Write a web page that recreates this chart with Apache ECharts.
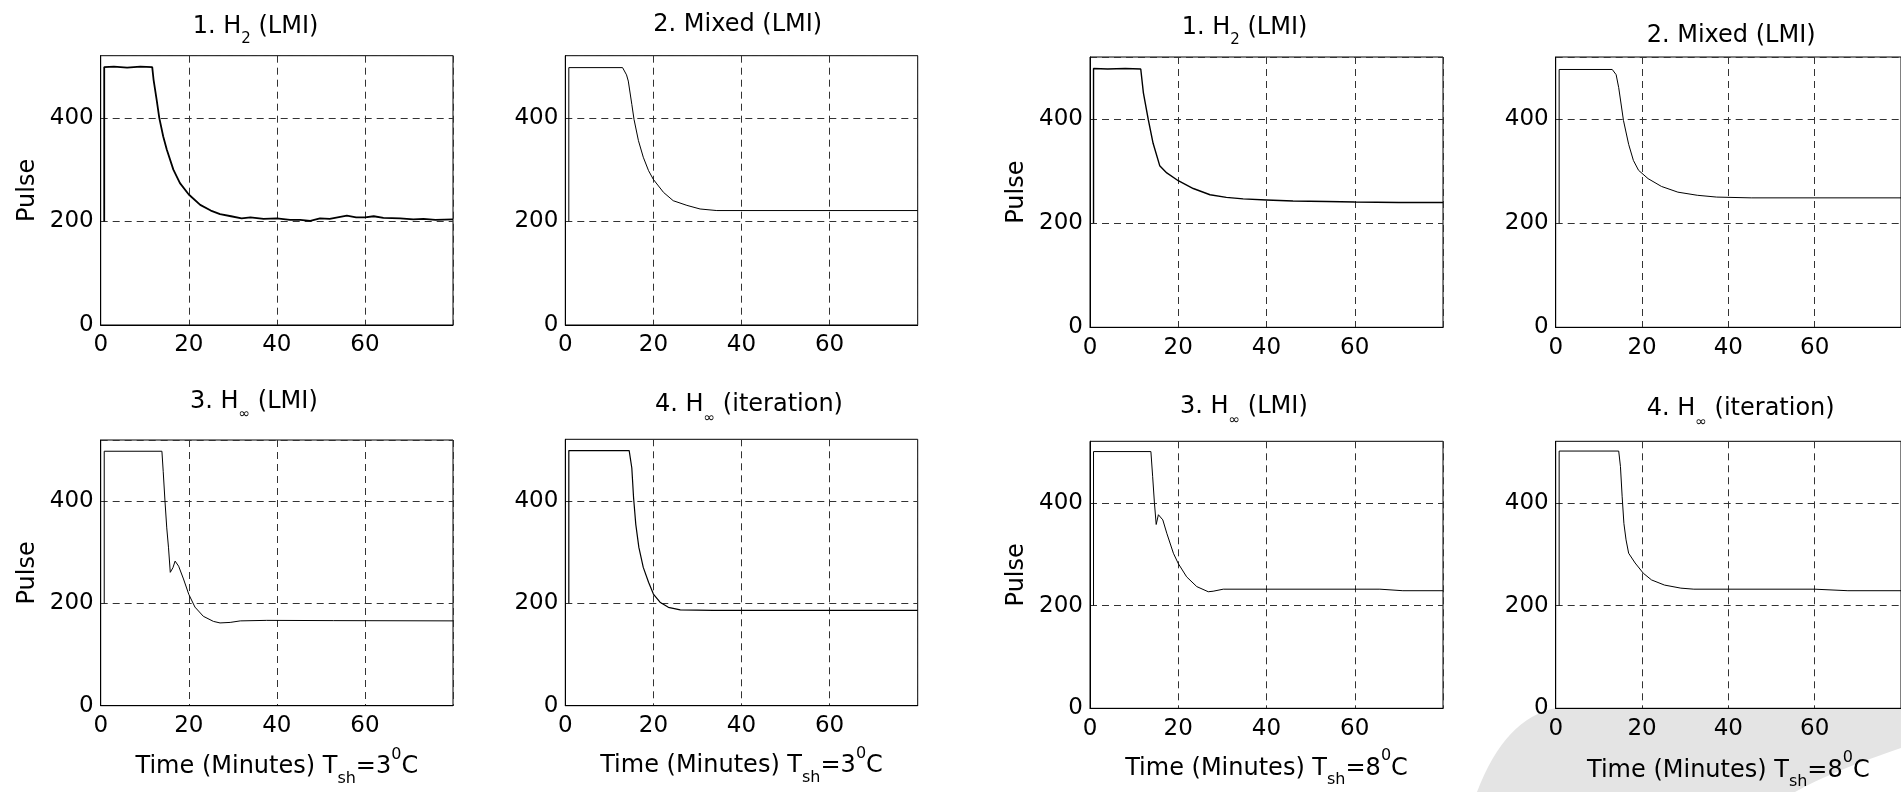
<!DOCTYPE html>
<html><head><meta charset="utf-8">
<script src="https://cdn.jsdelivr.net/npm/echarts@6/dist/echarts.min.js"></script>
<style>html,body{margin:0;padding:0;background:#fff}#c{width:1901px;height:792px}</style>
</head><body><div id="c"></div>
<script>
// ---------- DATA (time in minutes, pulse) ----------
const xTickValues = [0, 20, 40, 60];          // labelled x ticks (axis runs to 80)
const yTickValues = [0, 200, 400];            // labelled y ticks (axis runs to 520)
const xMax = 80, yMax = 520;

const h2Lmi3 = [[0.8,200],[0.8,498],[3,499],[6,497],[9,499],[11.7,498],[12.0,474],[12.7,435],[13.3,400],[14.2,364],[15,339],[16.5,300],[18,274],[20,252],[22.6,232],[25,221],[27.1,214],[29.6,210],[32,206],[34,208],[37,205],[40,206],[43,203],[45.3,203],[47.6,201],[49.8,206],[52,205],[55.9,211],[58,208],[60,208],[62,210],[64.2,207],[68,206],[71,204],[73.3,205],[76,203],[80,204]];
const mixedLmi3 = [[0.8,200],[0.8,497],[13.0,497],[13.9,483],[14.3,471],[15.1,426],[15.6,397],[16.6,356],[17.7,324],[18.9,298],[20,281],[22.3,256],[24.5,240],[27.6,231],[30.6,224],[34.4,221],[80,221]];
const hinfLmi3 = [[0.8,200],[0.8,498],[13.9,498],[14.2,458],[14.6,400],[15,348],[15.4,309],[15.8,261],[16.4,270],[16.9,283],[17.7,273],[18.8,248],[20,218],[21.4,193],[23.3,175],[25.6,165],[27.1,162],[29.4,163],[31.7,166],[37.7,167],[52.9,166.5],[80,166]];
const hinfIter3 = [[0.8,200],[0.8,498],[14.5,498],[15.1,464],[15.5,406],[16,354],[16.7,309],[17.7,270],[18.9,241],[20,218],[21.5,202],[23.4,192],[26.1,187],[33.6,186],[80,186]];
const h2Lmi8 = [[0.8,200],[0.8,498],[4,497],[8,498],[11.5,497],[12.1,451],[13.2,400],[14.3,354],[15.8,311],[17.4,297],[20,282],[23.4,267],[27.2,255],[30.9,250],[34.7,247],[40,245],[46,243],[53.6,242],[60,241],[70,240],[80,240]];
const mixedLmi8 = [[0.8,200],[0.8,496],[13.1,496],[14,486],[14.6,461],[15.7,398],[16.9,352],[18,321],[19.2,302],[21.4,286],[24.5,271],[28.3,260],[32.8,254],[37.3,250.5],[45.3,249],[80,249]];
const hinfLmi8 = [[0.8,200],[0.8,500],[13.8,500],[14.2,451],[14.6,400],[15,358],[15.5,377],[15.9,380],[16.5,367],[17.4,341],[18.9,302],[20,282],[21.9,256],[24.2,237],[26.8,227],[27.9,228],[30.2,232],[65.7,232],[70.9,229],[80,229]];
const hinfIter8 = [[0.8,200],[0.8,501],[14.6,501],[15,471],[15.4,412],[15.8,360],[16.3,328],[16.9,302],[18.4,283],[20.3,263],[22.2,250],[25.2,240],[29,234],[32,232],[60,232],[67.7,229],[80,229]];

const titles = ['{m|1. H}{s|2}{m| (LMI)}','{m|2. Mixed (LMI)}','{m|1. H}{s|2}{m| (LMI)}','{m|2. Mixed (LMI)}',
                '{m|3. H}{i|∞}{m| (LMI)}','{m|4. H}{i|∞}{m| (iteration)}','{m|3. H}{i|∞}{m| (LMI)}','{m|4. H}{i|∞}{m| (iteration)}'];
const xNames = ['','','','','{m|Time (Minutes) T}{s|sh}{m|=3}{p|0}{m|C}','{m|Time (Minutes) T}{s|sh}{m|=3}{p|0}{m|C}',
                '{m|Time (Minutes) T}{s|sh}{m|=8}{p|0}{m|C}','{m|Time (Minutes) T}{s|sh}{m|=8}{p|0}{m|C}'];
const yNames = ['Pulse','','Pulse','','Pulse','','Pulse',''];
const seriesData = [h2Lmi3, mixedLmi3, h2Lmi8, mixedLmi8, hinfLmi3, hinfIter3, hinfLmi8, hinfIter8];

// ---------- LAYOUT ----------
const FONT = 'DejaVu Sans';
const grids = [
  {left:100.7, top:55.7, width:352.3, height:269.3},
  {left:565.3, top:55.7, width:352.4, height:269.3},
  {left:1090,  top:57,   width:353,   height:270.3},
  {left:1555.7,top:57,   width:353,   height:270.3},
  {left:100.7, top:440,  width:352.3, height:265.7},
  {left:565.3, top:439.3,width:352.4, height:266.4},
  {left:1090,  top:441.3,width:353,   height:267},
  {left:1555.7,top:441.3,width:353,   height:267}
];
const titlePos = [[192.7,7],[653.3,4.5],[1181.7,7.5],[1646.7,15.5],[190,381.5],[655,385],[1180,387],[1646.7,389]];
const xNameGaps = [0,0,0,0,41,40,40,42];
const lineWidths = [1.8,1,1.4,1,1,1.2,1,1];

const base = {fontFamily:FONT,fontWeight:'normal',color:'#000'};
const richT = {
  m:Object.assign({fontSize:24,lineHeight:40,verticalAlign:'middle'},base),
  s:Object.assign({fontSize:15,lineHeight:14,verticalAlign:'bottom'},base),
  i:Object.assign({fontSize:14,lineHeight:14,verticalAlign:'bottom'},base),
  p:Object.assign({fontSize:16,lineHeight:28,verticalAlign:'top'},base)
};
const richX = {
  m:Object.assign({fontSize:24,lineHeight:40,verticalAlign:'middle'},base),
  s:Object.assign({fontSize:16,lineHeight:10,verticalAlign:'bottom'},base),
  p:Object.assign({fontSize:16,lineHeight:28,verticalAlign:'top'},base)
};

const option = {
  backgroundColor:'#fff',
  animation:false,
  title: titles.map((t,i)=>({text:t,left:titlePos[i][0],top:titlePos[i][1],padding:0,
    textStyle:Object.assign({fontSize:24,rich:richT},base)})),
  grid: grids.map(g=>Object.assign({show:true,borderColor:'#000',borderWidth:1,backgroundColor:'#fff',containLabel:false},g)),
  xAxis: grids.map((g,i)=>({
    gridIndex:i,type:'value',min:0,max:xMax,interval:xTickValues[1]-xTickValues[0],
    axisLine:{show:true,onZero:false,lineStyle:{color:'#000',width:1}},
    axisTick:{show:false},
    axisLabel:{color:'#000',fontFamily:FONT,fontSize:23,margin:9,showMaxLabel:false,showMinLabel:true},
    splitLine:{show:true,lineStyle:{color:'#333',width:1,type:[7,5]}},
    name:xNames[i],nameLocation:'middle',nameGap:xNameGaps[i],
    nameTextStyle:Object.assign({fontSize:24,rich:richX},base)
  })),
  yAxis: grids.map((g,i)=>({
    gridIndex:i,type:'value',min:0,max:yMax,interval:yTickValues[1]-yTickValues[0],
    axisLine:{show:true,onZero:false,lineStyle:{color:'#000',width:1}},
    axisTick:{show:false},
    axisLabel:{color:'#000',fontFamily:FONT,fontSize:23,margin:7,showMaxLabel:false},
    splitLine:{show:true,lineStyle:{color:'#333',width:1,type:[7,5]}},
    name:yNames[i],nameLocation:'middle',nameRotate:90,nameGap:61,
    nameTextStyle:Object.assign({fontSize:24},base)
  })),
  series: seriesData.map((d,i)=>({
    type:'line',xAxisIndex:i,yAxisIndex:i,data:d,showSymbol:false,symbol:'none',
    lineStyle:{color:'#000',width:lineWidths[i]},silent:true,z:3
  })),
  graphic:{elements:[]}
};

// decorative grey swoosh (bottom right of the source image)
function quad(p0,c,p1,n){const pts=[];for(let k=0;k<=n;k++){const t=k/n,u=1-t;pts.push([u*u*p0[0]+2*u*t*c[0]+t*t*p1[0],u*u*p0[1]+2*u*t*c[1]+t*t*p1[1]]);}return pts;}
const swoosh = [].concat(quad([1477,792],[1505,718],[1556,708],16),[[1901,708],[1901,748]],quad([1901,748],[1830,772],[1795,792],12));
option.graphic.elements.push({type:'polygon',z:-1,silent:true,shape:{points:swoosh},style:{fill:'#e4e4e4'}});

const chart = echarts.init(document.getElementById('c'),null,{renderer:'canvas'});
chart.setOption(option);
</script></body></html>
